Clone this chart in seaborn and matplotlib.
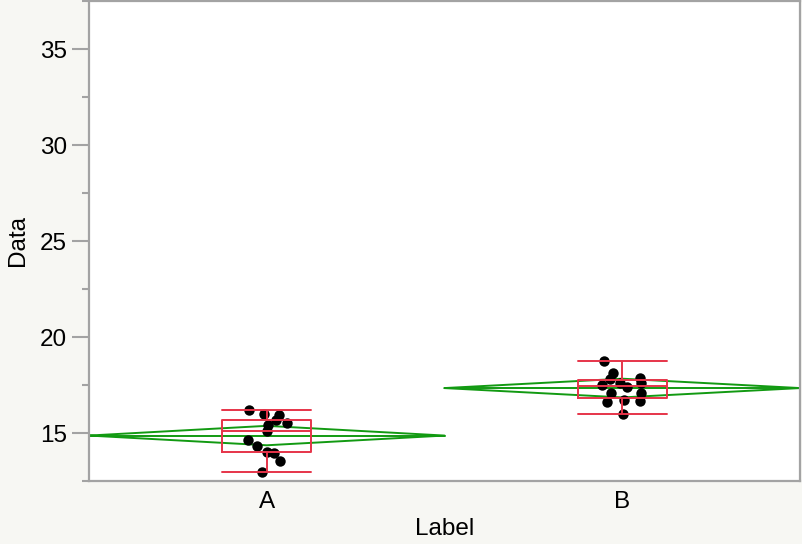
import numpy as np
import pandas as pd
import seaborn as sns
import matplotlib.pyplot as plt
from matplotlib.ticker import MultipleLocator, FixedLocator

# ---- data ----
categories = ["A", "B"]
values_a = [16.2, 15.94, 15.99, 15.68, 15.5, 15.42, 15.12, 14.64, 14.32, 14.03, 13.94, 13.54, 12.95]
values_b = [18.77, 18.11, 17.85, 17.8, 17.62, 17.59, 17.5, 17.41, 17.07, 17.07, 16.72, 16.68, 16.6, 15.97]
y_major_ticks = [15, 20, 25, 30, 35]
x_label = "Label"
y_label = "Data"
t_crit = 2.06  # 95% t critical value for pooled error df

# ---- styling ----
bg = "#F7F7F3"
axis_gray = "#A3A3A3"
red = "#E63449"
green = "#129A12"
fs = 17.5

sns.set_theme(style="white")
plt.rcParams["font.family"] = ["Liberation Sans", "DejaVu Sans"]

df = pd.DataFrame({
    "Label": ["A"] * len(values_a) + ["B"] * len(values_b),
    "Data": values_a + values_b,
})

fig = plt.figure(figsize=(8.02, 5.44), dpi=100, facecolor=bg)
ax = fig.add_axes([89 / 802, (544 - 481) / 544, (800 - 89) / 802, 480 / 544])
ax.set_facecolor("white")

# means diamonds (pooled-error confidence intervals)
groups = [values_a, values_b]
ss = sum(((np.array(g) - np.mean(g)) ** 2).sum() for g in groups)
dfe = sum(len(g) for g in groups) - len(groups)
sp = np.sqrt(ss / dfe)
for i, g in enumerate(groups):
    m = np.mean(g)
    ci = t_crit * sp / np.sqrt(len(g))
    ax.plot([i - 0.5, i, i + 0.5, i, i - 0.5], [m, m + ci, m, m - ci, m],
            color=green, lw=1.4, zorder=1)
    ax.plot([i - 0.5, i + 0.5], [m, m], color=green, lw=1.4, zorder=1)

np.random.seed(7)
sns.stripplot(data=df, x="Label", y="Data", order=categories, color="black",
              size=7.5, jitter=0.06, linewidth=0, zorder=2, ax=ax)

sns.boxplot(data=df, x="Label", y="Data", order=categories, width=0.25,
            whis=(0, 100), fill=False, color=red, linecolor=red, linewidth=1.4,
            showfliers=False, capwidths=0.25, ax=ax,
            boxprops=dict(zorder=3), whiskerprops=dict(zorder=3),
            capprops=dict(zorder=3), medianprops=dict(zorder=3))

ax.set_xlim(-0.5, 1.5)
ax.set_ylim(12.5, 37.5)

ax.xaxis.set_major_locator(FixedLocator([0, 1]))
ax.set_xticklabels(categories)
ax.xaxis.set_minor_locator(FixedLocator([-0.5, 0.5, 1.5]))
ax.tick_params(axis="x", which="major", length=0, pad=7, labelsize=fs, labelcolor="black")
ax.tick_params(axis="x", which="minor", length=11, width=1.5, color=axis_gray, direction="out")

ax.yaxis.set_major_locator(FixedLocator(y_major_ticks))
ax.yaxis.set_minor_locator(MultipleLocator(2.5))
ax.tick_params(axis="y", which="major", left=True, length=12, width=1.5, color=axis_gray,
               pad=4, labelsize=fs, labelcolor="black")
ax.tick_params(axis="y", which="minor", left=True, length=5, width=1.5, color=axis_gray)

for s in ax.spines.values():
    s.set_visible(True)
    s.set_color(axis_gray)
    s.set_linewidth(1.6)

ax.set_xlabel(x_label, fontsize=fs, color="black", labelpad=4)
ax.set_ylabel(y_label, fontsize=fs, color="black", labelpad=8)
ax.grid(False)

fig.savefig("out.png", dpi=100, facecolor=bg)
